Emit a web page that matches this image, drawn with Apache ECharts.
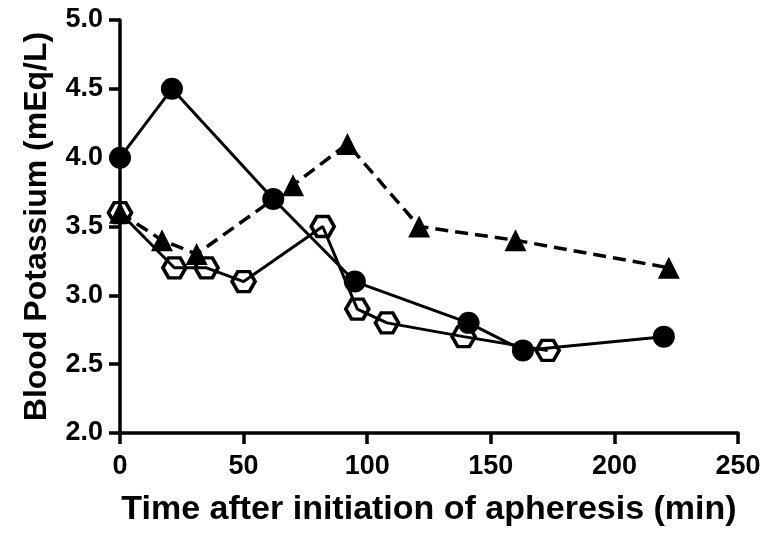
<!DOCTYPE html>
<html><head><meta charset="utf-8">
<script src="https://cdn.jsdelivr.net/npm/echarts@6/dist/echarts.min.js"></script>
<style>html,body{margin:0;padding:0;background:#fff}#c{width:766px;height:533px}</style>
</head><body><div id="c"></div>
<script>
const circleTime = [0, 21, 62, 95, 141, 163, 220];
const circleK    = [4.0, 4.5, 3.7, 3.1, 2.8, 2.6, 2.7];
const triTime    = [0, 17, 31, 70, 92, 121, 160, 222];
const triK       = [3.6, 3.4, 3.3, 3.8, 4.1, 3.5, 3.4, 3.2];
const hexTime    = [0, 22, 35, 50, 82, 96, 108, 139, 173];
const hexK       = [3.6, 3.2, 3.2, 3.1, 3.5, 2.9, 2.8, 2.7, 2.6];
const xTicks = [0, 50, 100, 150, 200, 250];
const yTicks = [2.0, 2.5, 3.0, 3.5, 4.0, 4.5, 5.0];

const pair = (xs, ys) => xs.map((x, i) => [x, ys[i]]);
const hexPath = 'path://M0,10 L5,1.34 L15,1.34 L20,10 L15,18.66 L5,18.66 Z';
const font = 'Liberation Sans';

const chart = echarts.init(document.getElementById('c'), null, {renderer: 'canvas'});
chart.setOption({
  animation: false,
  backgroundColor: '#fff',
  grid: {left: 120, right: 28, top: 20, bottom: 100, containLabel: false},
  xAxis: {
    type: 'value', min: xTicks[0], max: xTicks[xTicks.length - 1], interval: 50,
    name: 'Time after initiation of apheresis (min)',
    nameLocation: 'middle', nameGap: 60,
    nameTextStyle: {fontFamily: font, fontWeight: 'bold', fontSize: 34, color: '#000'},
    axisLine: {lineStyle: {color: '#000', width: 3.5}},
    axisTick: {length: 11, lineStyle: {color: '#000', width: 3.5}},
    axisLabel: {fontFamily: font, fontWeight: 'bold', fontSize: 27, color: '#000', margin: 20},
    splitLine: {show: false}
  },
  yAxis: {
    type: 'value', min: yTicks[0], max: yTicks[yTicks.length - 1], interval: 0.5,
    name: 'Blood Potassium (mEq/L)',
    nameLocation: 'middle', nameGap: 67,
    nameTextStyle: {fontFamily: font, fontWeight: 'bold', fontSize: 32, color: '#000'},
    axisLine: {show: true, lineStyle: {color: '#000', width: 3.5}},
    axisTick: {show: true, length: 11, lineStyle: {color: '#000', width: 3.5}},
    axisLabel: {fontFamily: font, fontWeight: 'bold', fontSize: 27, color: '#000', margin: 17,
      formatter: v => v.toFixed(1)},
    splitLine: {show: false}
  },
  series: [
    {
      type: 'line', data: pair(triTime, triK), symbol: 'triangle', symbolSize: 22,
      lineStyle: {color: '#000', width: 3.5, type: [13, 7]},
      itemStyle: {color: '#000'}, z: 2
    },
    {
      type: 'line', data: pair(hexTime, hexK), symbol: hexPath, symbolSize: [23, 20],
      symbolKeepAspect: false,
      lineStyle: {color: '#000', width: 3},
      itemStyle: {color: 'rgba(255,255,255,0)', borderColor: '#000', borderWidth: 3.5}, z: 3
    },
    {
      type: 'line', data: pair(circleTime, circleK), symbol: 'circle', symbolSize: 22,
      lineStyle: {color: '#000', width: 3},
      itemStyle: {color: '#000'}, z: 4
    }
  ]
});
</script></body></html>
